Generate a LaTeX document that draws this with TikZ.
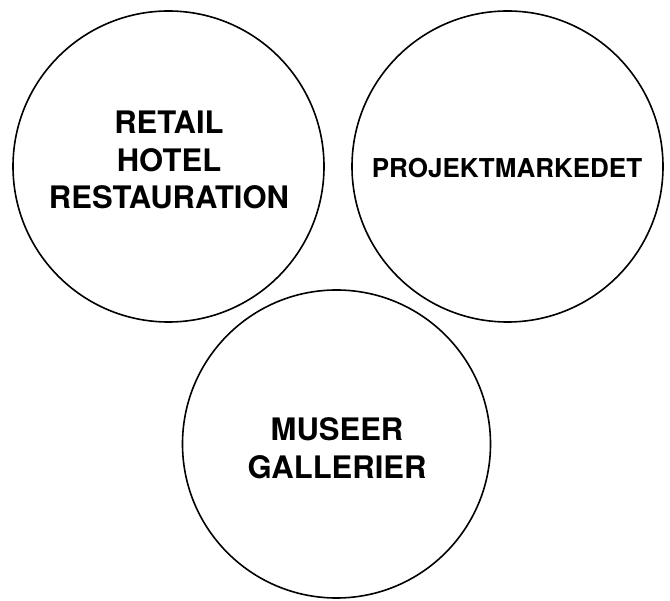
\documentclass[tikz,border=0pt]{standalone}
\usepackage{fontspec}
\setmainfont{TeX Gyre Heros}
\usetikzlibrary{calc}

\tikzset{
  ring/.style={black,line width=1.6pt},
  bigtxt/.style={align=center,font=\bfseries\fontsize{31}{37.5}\selectfont},
  smalltxt/.style={align=center,font=\bfseries\fontsize{26}{30}\selectfont}
}

\begin{document}
\begin{tikzpicture}[x=1pt,y=-1pt]
\useasboundingbox (0,0) rectangle (670,601);
\coordinate(R) at (168.5,166.5);
\coordinate(P) at (507.5,166.5);
\coordinate(M) at (336.5,444);
\draw[ring] (R) circle (155.5);
\draw[ring] (P) circle (155.5);
\draw[ring] (M) circle (154);
\node[bigtxt] (retail) at (169,160) {RETAIL\\HOTEL\\RESTAURATION};
\node[smalltxt] (projekt) at (507,168) {PROJEKTMARKEDET};
\node[bigtxt] (museer) at (337,448) {MUSEER\\GALLERIER};
\end{tikzpicture}
\end{document}
